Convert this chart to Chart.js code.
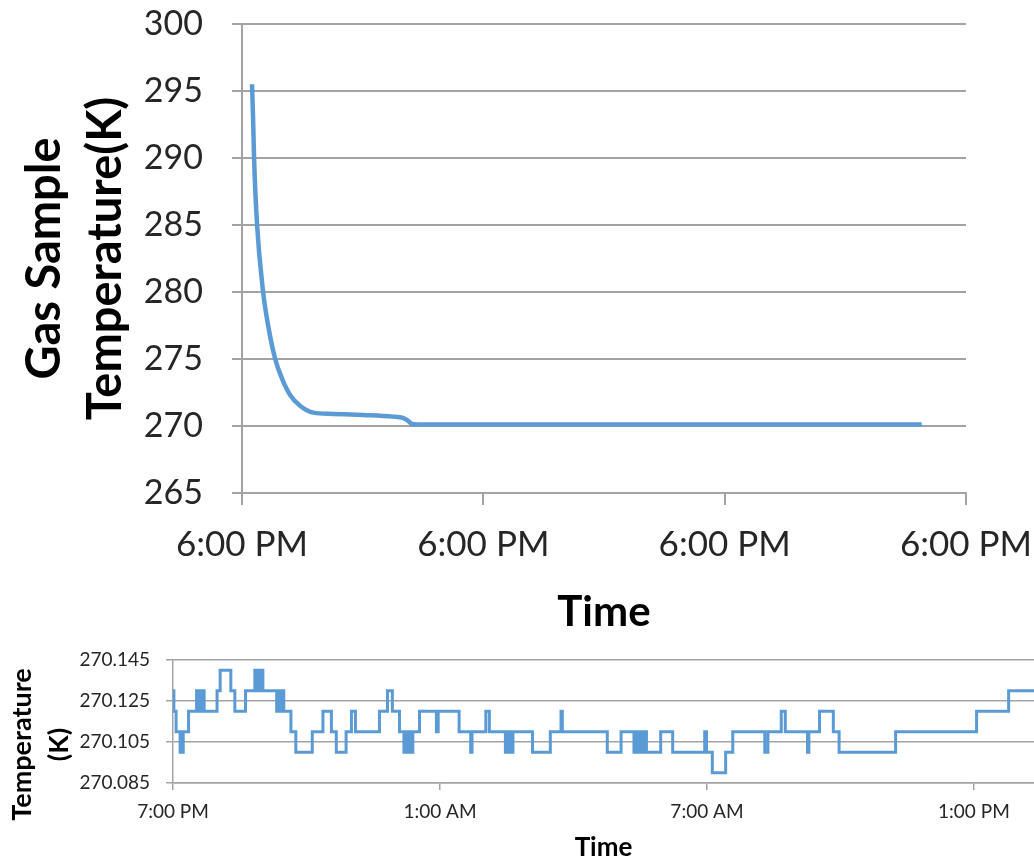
<!DOCTYPE html>
<html>
<head>
<meta charset="utf-8">
<script src="https://cdn.jsdelivr.net/npm/chart.js@4"></script>
<style>
  body { margin: 0; background: #fff; overflow: hidden; }
  #top { position: absolute; left: 0; top: 0; }
  #bottom { position: absolute; left: 0; top: 640px; }
</style>
</head>
<body>
<canvas id="top" width="1034" height="640"></canvas>
<canvas id="bottom" width="1034" height="221"></canvas>
<script>
// top chart: hours since the first 6:00 PM
const topHours = [1.0, 1.1, 1.2, 1.5, 2.1, 2.6, 3.3, 4.0, 4.8, 5.8, 7.1, 9.0, 12.0, 15.0, 16.0, 16.5, 16.9, 17.5, 25, 35, 45, 55, 67.6];
const topTemps = [295.5, 293, 290, 285, 280, 277.5, 275, 273.5, 272.3, 271.5, 271.0, 270.9, 270.82, 270.7, 270.6, 270.4, 270.15, 270.11, 270.11, 270.11, 270.11, 270.11, 270.11];
const topTickHours = [0, 24, 48, 72];
const topTickLabels = ["6:00 PM", "6:00 PM", "6:00 PM", "6:00 PM"];

// bottom chart: hours since 7:00 PM, value changes (step)
const lowHours = [0.00, 0.02, 0.07, 0.16, 0.18, 0.20, 0.23, 0.35, 0.53, 0.57, 0.61, 0.65, 0.68, 0.70, 0.99, 1.06, 1.30, 1.39, 1.63, 1.84, 1.90, 1.96, 2.02, 2.33, 2.37, 2.41, 2.45, 2.49, 2.65, 2.76, 3.13, 3.37, 3.56, 3.67, 3.89, 4.01, 4.10, 4.64,
  4.82, 4.93, 5.09, 5.19, 5.24, 5.27, 5.31, 5.34, 5.39, 5.54, 5.92, 5.96, 6.43, 6.69, 6.72, 7.03, 7.11, 7.47, 7.50, 7.53, 7.57, 7.60, 7.64, 8.08, 8.48, 8.72, 8.75,
  9.76, 10.07, 10.36, 10.41, 10.45, 10.50, 10.54, 10.59, 10.64, 10.96, 11.23, 11.95, 11.99, 12.12, 12.42, 12.58, 13.30, 13.37, 13.67, 13.76, 14.26, 14.29,
  14.53, 14.84, 14.97, 16.24, 18.06, 18.78, 19.35];
const lowTemps = [270.13, 270.12, 270.11, 270.10, 270.11, 270.10, 270.11, 270.12, 270.13, 270.12, 270.13, 270.12, 270.13, 270.12, 270.13, 270.14, 270.13, 270.12, 270.13, 270.14, 270.13, 270.14, 270.13, 270.12, 270.13, 270.12, 270.13, 270.12, 270.11, 270.10, 270.11, 270.12, 270.11, 270.10, 270.11, 270.12, 270.11, 270.12,
  270.13, 270.12, 270.11, 270.10, 270.11, 270.10, 270.11, 270.10, 270.11, 270.12, 270.11, 270.12, 270.11, 270.10, 270.11, 270.12, 270.11, 270.10, 270.11, 270.10, 270.11, 270.10, 270.11, 270.10, 270.11, 270.12, 270.11,
  270.10, 270.11, 270.10, 270.11, 270.10, 270.11, 270.10, 270.11, 270.10, 270.11, 270.10, 270.11, 270.10, 270.09, 270.10, 270.11, 270.10, 270.11, 270.12, 270.11, 270.10, 270.11,
  270.12, 270.11, 270.10, 270.11, 270.12, 270.13, 270.13];
const lowTickHours = [0, 6, 12, 18];
const lowTickLabels = ["7:00 PM", "1:00 AM", "7:00 AM", "1:00 PM"];
const lowTempTicks = [270.085, 270.105, 270.125, 270.145];

Chart.defaults.font.family = "Lato, 'Open Sans', sans-serif";
Chart.defaults.color = "#262626";

const lineBlue = "#5b9bd5";
const gridGray = "#a3a3a3";

function pairs(xs, ys) {
  return xs.map((x, i) => ({ x: x, y: ys[i] }));
}

// let the layout padding decide the plot edges, not the tick label overflow
function noOverflow(scale) {
  scale.paddingTop = 0;
  scale.paddingBottom = 0;
  scale.paddingLeft = 0;
  scale.paddingRight = 0;
}

new Chart(document.getElementById("top"), {
  type: "line",
  data: {
    datasets: [{
      data: pairs(topHours, topTemps),
      borderColor: lineBlue,
      borderWidth: 4.5,
      pointRadius: 0,
      cubicInterpolationMode: "monotone"
    }]
  },
  options: {
    responsive: false,
    animation: false,
    layout: { padding: { top: 24, right: 68, left: 0, bottom: 0 } },
    plugins: { legend: { display: false }, tooltip: { enabled: false } },
    scales: {
      x: {
        type: "linear",
        min: 0,
        max: 72,
        afterBuildTicks: (scale) => { scale.ticks = topTickHours.map(v => ({ value: v })); },
        afterFit: (scale) => { scale.height = 147; noOverflow(scale); },
        ticks: {
          callback: (v) => topTickLabels[topTickHours.indexOf(v)],
          font: { size: 35 },
          padding: 19,
          maxRotation: 0,
          autoSkip: false
        },
        grid: { drawOnChartArea: false, drawTicks: true, tickLength: 12, color: gridGray, lineWidth: 2 },
        border: { color: gridGray, width: 2 },
        title: { display: true, text: "Time", font: { size: 42, weight: "bold" }, color: "#000", padding: { top: 0, bottom: 2 } }
      },
      y: {
        min: 265,
        max: 300,
        ticks: { stepSize: 5, font: { size: 34 }, padding: 29 },
        afterFit: (scale) => { scale.width = 242; noOverflow(scale); },
        grid: { color: gridGray, lineWidth: 2, tickLength: 10 },
        border: { color: gridGray, width: 2 },
        title: {
          display: true,
          text: ["Gas Sample", "Temperature(K)"],
          font: { size: 47, weight: "bold", lineHeight: 1.3 },
          color: "#000",
          padding: { top: 14, bottom: 0 }
        }
      }
    }
  }
});

new Chart(document.getElementById("bottom"), {
  type: "line",
  data: {
    datasets: [{
      data: pairs(lowHours, lowTemps),
      borderColor: lineBlue,
      borderWidth: 3,
      pointRadius: 0,
      stepped: true
    }]
  },
  options: {
    responsive: false,
    animation: false,
    layout: { padding: { top: 20, right: 0, left: 0, bottom: 0 } },
    plugins: { legend: { display: false }, tooltip: { enabled: false } },
    scales: {
      x: {
        type: "linear",
        min: 0,
        max: 19.35,
        afterBuildTicks: (scale) => { scale.ticks = lowTickHours.map(v => ({ value: v })); },
        afterFit: (scale) => { scale.height = 78; noOverflow(scale); },
        ticks: {
          callback: (v) => lowTickLabels[lowTickHours.indexOf(v)],
          font: { size: 19 },
          padding: 10.5,
          maxRotation: 0,
          autoSkip: false
        },
        grid: { drawOnChartArea: false, drawTicks: true, tickLength: 7, color: gridGray, lineWidth: 1.5 },
        border: { color: gridGray, width: 1.5 },
        title: { display: true, text: "Time", font: { size: 26, weight: "bold", lineHeight: 1.0 }, color: "#000", padding: { top: 0, bottom: 0 } }
      },
      y: {
        min: 270.085,
        max: 270.145,
        afterBuildTicks: (scale) => { scale.ticks = lowTempTicks.map(v => ({ value: v })); },
        afterFit: (scale) => { scale.width = 173; noOverflow(scale); },
        ticks: { callback: (v) => v.toFixed(3), font: { size: 19 }, padding: 16 },
        grid: { color: gridGray, lineWidth: 1.5, tickLength: 7 },
        border: { color: gridGray, width: 1.5 },
        title: {
          display: true,
          text: ["Temperature       ", "(K)       "],
          font: { size: 27, weight: "bold", lineHeight: 1.4 },
          color: "#000",
          padding: { top: 3, bottom: 0 }
        }
      }
    }
  }
});
</script>
</body>
</html>
